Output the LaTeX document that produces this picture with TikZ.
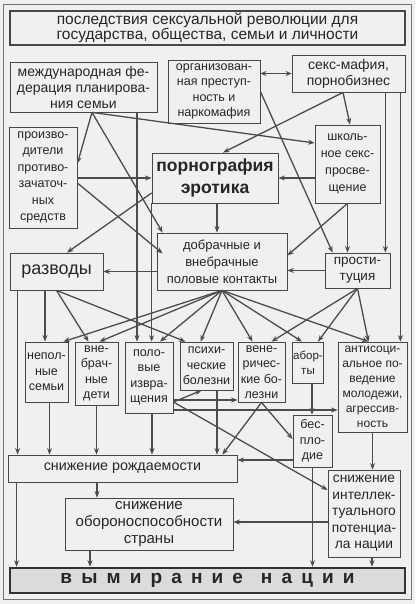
\documentclass[tikz,border=0pt]{standalone}
\usepackage{fontspec}
\setmainfont{Liberation Sans}
\usetikzlibrary{arrows.meta,calc}
\begin{document}
\begin{tikzpicture}[x=1pt,y=-1pt,
  box/.style={draw=black!72,line width=0.8pt,align=center,inner sep=0pt,text=black!85,font=\fontsize{12.5}{15.5}\selectfont},
  arr/.style={draw=black!70,line width=1.3pt,-{Stealth[length=6.5pt,width=5pt]}},
  dbl/.style={draw=black!70,line width=1.3pt,{Stealth[length=6pt,width=5pt]}-{Stealth[length=6pt,width=5pt]}}]
\fill[black!6] (0,0) rectangle (415,604);
\useasboundingbox (0,0) rectangle (415,604);
\draw[black!55,line width=0.8pt] (3,4) rectangle (411,599);
% nodes
\node[box,line width=1.8pt,minimum width=395pt,minimum height=34pt,font=\fontsize{15.5}{15.5}\selectfont] (title) at (207.5,28) {последствия сексуальной революции для\\государства, общества, семьи и личности};
\node[box,minimum width=147pt,minimum height=50pt,font=\fontsize{14}{16}\selectfont] (A) at (83.5,87) {международная фе-\\дерация планирова-\\ния семьи};
\node[box,minimum width=92pt,minimum height=63pt] (B) at (214,91.5) {организован-\\ная преступ-\\ность и\\наркомафия};
\node[box,minimum width=113pt,minimum height=37pt,font=\fontsize{14}{16}\selectfont] (C) at (348.5,73.5) {секс-мафия,\\порнобизнес};
\node[box,minimum width=68pt,minimum height=101pt,font=\fontsize{12.5}{16.5}\selectfont] (D) at (43,177.5) {произво-\\дители\\противо-\\зачаточ-\\ных\\средств};
\node[box,minimum width=126pt,minimum height=50pt,font=\bfseries\fontsize{17.5}{22}\selectfont] (E) at (215,178) {порнография\\эротика};
\node[box,minimum width=65pt,minimum height=78pt,font=\fontsize{12.5}{17}\selectfont] (F) at (347.5,164) {школь-\\ное секс-\\просве-\\щение};
\node[box,minimum width=130pt,minimum height=57pt,font=\fontsize{13}{17}\selectfont] (G) at (222,261.5) {добрачные и\\внебрачные\\половые контакты};
\node[box,minimum width=93pt,minimum height=37pt,font=\fontsize{18}{20}\selectfont] (H) at (56.5,271.5) {разводы};
\node[box,minimum width=65pt,minimum height=35pt,font=\fontsize{13.5}{16}\selectfont] (I) at (357.5,270.5) {прости-\\туция};
\node[box,minimum width=43pt,minimum height=60pt] (J) at (46.5,372) {непол-\\ные\\семьи};
\node[box,minimum width=43pt,minimum height=63pt] (K) at (96.5,373.5) {вне-\\брач-\\ные\\дети};
\node[box,minimum width=48pt,minimum height=71pt] (L) at (149,377.5) {поло-\\вые\\извра-\\щения};
\node[box,minimum width=53pt,minimum height=48pt] (M) at (206.5,366) {психи-\\ческие\\болезни};
\node[box,minimum width=47pt,minimum height=60pt] (N) at (261.5,372) {вене-\\ричес-\\кие бо-\\лезни};
\node[box,minimum width=31pt,minimum height=41pt,font=\fontsize{11.5}{15}\selectfont] (O) at (308,362.5) {абор-\\ты};
\node[box,minimum width=69pt,minimum height=90pt,font=\fontsize{12}{15}\selectfont] (P) at (372.5,387) {антисоци-\\альное по-\\ведение\\молодежи,\\агрессив-\\ность};
\node[box,minimum width=39pt,minimum height=52pt] (Q) at (312.5,441) {бес-\\пло-\\дие};
\node[box,minimum width=229pt,minimum height=27pt,font=\fontsize{14.3}{15}\selectfont] (R) at (122.5,468.5) {снижение рождаемости};
\node[box,minimum width=168pt,minimum height=52pt,font=\fontsize{15}{17}\selectfont] (S) at (149,524) {снижение\\обороноспособности\\страны};
\node[box,minimum width=72pt,minimum height=87pt,font=\fontsize{13.8}{16.5}\selectfont] (T) at (364,513.5) {снижение\\интеллек-\\туального\\потенциа-\\ла нации};
\node[box,line width=2.5pt,draw=black!80,fill=black!14,minimum width=395pt,minimum height=25pt,font=\bfseries\fontsize{19}{20}\selectfont\addfontfeatures{LetterSpace=48}] (U) at (207.5,580.5) {вымирание\hspace{18pt}нации};
% fan points
\coordinate (a0) at ([xshift=8.5pt]A.south);
\coordinate (c0) at ([xshift=-5.5pt]C.south);
\coordinate (g0) at (G.south);
\coordinate (i0) at (I.south);
\coordinate (h0) at (H.south);
\coordinate (n0) at (N.south);
\coordinate (l0) at ([yshift=-24.5pt]L.east);
% upper connectors
\draw[arr] (a0) -- ([yshift=14pt]D.east);
\draw[arr] (a0) -- ([xshift=6pt]G.north west);
\draw[arr] (a0) -- ([yshift=21pt]F.west);
\draw[arr] ([xshift=-12pt]L.north |- A.south) -- ([xshift=-12pt]L.north);
\draw[dbl] (B.east |- C.west) -- (C.west);
\draw[arr] (B.east) -- ([xshift=8pt]I.north west);
\draw[arr] (c0) -- ([xshift=2.5pt]F.north);
\draw[arr] (c0) -- ([xshift=8pt]E.north);
\draw[arr] ([xshift=-5pt]I.north east |- C.south) -- ([xshift=-5pt]I.north east);
\draw[arr] ([xshift=-7pt]P.north east |- C.south) -- ([xshift=-7pt]P.north east);
\draw[arr] (D.east |- E.west) -- (E.west);
\draw[arr] ([yshift=-5.5pt]D.east) -- ([xshift=6pt,yshift=8pt]G.west);
\draw[arr] ([xshift=2pt]E.south) -- ([xshift=2pt]E.south |- G.north);
\draw[arr] ([yshift=-15pt]E.west) -- ([xshift=10.5pt]H.north);
\draw[arr] (E.south west) -- (E.south west |- L.north);
\draw[arr] (F.west |- E.east) -- (E.east);
\draw[arr] (F.south) -- (F.south |- I.north);
\draw[arr] (F.south) -- ([yshift=6pt]G.east);
\draw[arr] (G.west |- H.east) -- (H.east);
\draw[arr] (I.west) -- (I.west -| G.east);
% fan from G
\draw[arr] (g0) -- ([xshift=-5pt]J.north east);
\draw[arr] (g0) -- ([xshift=3pt]K.north);
\draw[arr] (g0) -- ([xshift=11pt]L.north);
\draw[arr] (g0) -- ([xshift=-6pt]M.north);
\draw[arr] (g0) -- ([xshift=-9pt]N.north);
\draw[arr] (g0) -- ([xshift=-6pt]O.north);
\draw[arr] (g0) -- ([xshift=-4pt]P.north);
% fan from I
\draw[arr] (i0) -- ([xshift=10pt]N.north);
\draw[arr] (i0) -- ([xshift=10pt]O.north);
\draw[arr] (i0) -- ([xshift=-4pt]P.north);
% fan from H
\draw[arr] ([xshift=-1.5pt]J.north |- H.south) -- ([xshift=-1.5pt]J.north);
\draw[arr] (h0) -- ([xshift=-8pt]K.north);
\draw[arr] (h0) -- ([xshift=-21pt]M.north);
\draw[arr] ([xshift=10pt]R.north west |- H.south) -- ([xshift=10pt]R.north west);
% lower connectors
\draw[arr] ([xshift=3pt]J.south) -- ([xshift=3pt]J.south |- R.north);
\draw[arr] (K.south) -- (K.south |- R.north);
\draw[arr] ([xshift=3pt]L.south) -- ([xshift=3pt]L.south |- R.north);
\draw[arr] ([xshift=10.5pt]M.south) -- ([xshift=10.5pt]M.south |- R.north);
\draw[arr] (n0) -- ([xshift=-15pt]R.north east);
\draw[arr] (n0) -- ([yshift=2pt]Q.west);
\draw[arr] (l0) -- ([xshift=-5pt]M.south);
\draw[arr] ([yshift=-22.5pt]L.east) -- ([yshift=-22.5pt]L.east -| N.west);
\draw[arr] ([yshift=-32.5pt]L.east) -- ([yshift=-32.5pt]L.east -| P.west);
\draw[arr] (l0) -- ([yshift=23.5pt]T.west);
\draw[arr] ([xshift=4pt]O.south) -- ([xshift=4pt]O.south |- Q.north);
\draw[arr] ([yshift=-19pt]Q.west) -- ([yshift=-19pt]Q.west -| R.east);
\draw[arr] (Q.south) -- (Q.south |- U.north);
\draw[arr] (P.south) -- (P.south |- T.north);
\draw[arr] ([yshift=-8.5pt]T.west) -- ([yshift=-8.5pt]T.west -| S.east);
\draw[arr] ([xshift=8pt]T.south) -- ([xshift=8pt]T.south |- U.north);
\draw[arr] ([xshift=-52pt]S.north |- R.south) -- ([xshift=-52pt]S.north);
\draw[arr] ([xshift=9pt]R.south west) -- ([xshift=9pt]R.south west |- U.north);
\draw[arr] ([xshift=-59pt]S.south) -- ([xshift=-59pt]S.south |- U.north);
\end{tikzpicture}
\end{document}
